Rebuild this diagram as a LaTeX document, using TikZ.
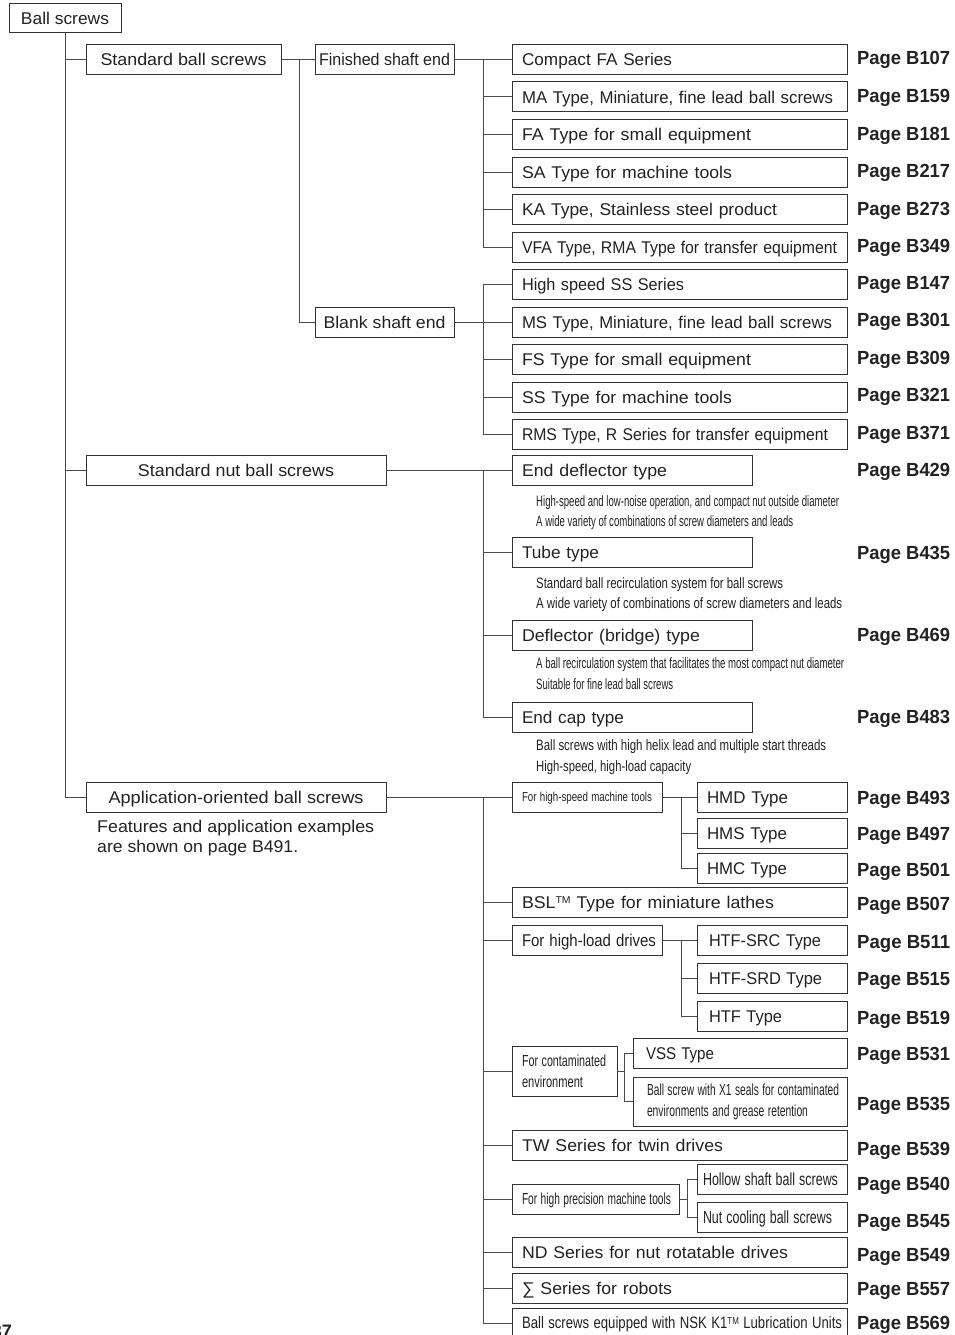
\documentclass[tikz,border=0pt]{standalone}
\usepackage{fontspec}
\setmainfont{Liberation Sans}
\usepackage{graphicx}
\newcommand\fitw[2]{\resizebox{#1pt}{\height}{#2}}
\newcommand\lt[2]{\hspace*{10pt}\fitw{#1}{#2}}
\newcommand\tmark[1]{\raisebox{#1}{\fontsize{10}{10}\selectfont TM}}
\definecolor{ink}{HTML}{222222}
\definecolor{bord}{HTML}{333333}
\definecolor{lin}{HTML}{4A4A4A}
\begin{document}
\begin{tikzpicture}[x=1pt,y=-1pt,
  box/.style={draw=bord, line width=1.0pt, text=ink, minimum height=30pt, inner ysep=0pt, outer sep=0pt, anchor=west, font=\fontsize{17}{20}\selectfont},
  onel/.style={text height=12.2pt, text depth=0pt},
  cbox/.style={box, onel, inner xsep=0pt, minimum width=#1pt},
  lbox/.style={box, onel, inner xsep=0pt, text width=#1pt, align=left},
  mbox/.style={box, inner xsep=0pt, text width=#1pt, align=left},
  pg/.style={anchor=base west, inner sep=0pt, text=ink, font=\fontsize{19}{20}\selectfont\bfseries},
  dsc/.style={anchor=base west, inner sep=0pt, text=ink, font=\fontsize{15}{20}\selectfont},
  captxt/.style={anchor=base west, inner sep=0pt, text=ink, font=\fontsize{17}{20}\selectfont},
  con/.style={draw=lin, line width=1.0pt}]
\fill[white] (0,0) rectangle (955,1335);
\useasboundingbox (0,0) rectangle (955,1335);

% bus coordinates
\coordinate (bx1) at (299,0);
\coordinate (bx2) at (483,0);
\coordinate (bx3) at (681,0);
\coordinate (bx4) at (624,0);
\coordinate (bx5) at (687,0);

% level 0 / 1 / 2
\node[cbox=112, minimum height=29pt] (root) at (9,18.5) {\fitw{88}{Ball screws}};
\node[cbox=195] (sbs) at (86,59.5) {\fitw{166}{Standard ball screws}};
\node[cbox=139] (fin) at (315,59.5) {\fitw{131}{Finished shaft end}};
\node[cbox=139] (blk) at (315,322) {\fitw{122}{Blank shaft end}};
\node[cbox=300] (snb) at (86,470.5) {\fitw{196}{Standard nut ball screws}};
\node[cbox=300] (app) at (86,797) {\fitw{255}{Application-oriented ball screws}};
\node[captxt] (cap1) at (97,832.3) {\fitw{277}{Features and application examples}};
\node[captxt] (cap2) at (97,852.3) {\fitw{201}{are shown on page B491.}};

% finished shaft end items
\node[lbox=335] (c1) at (512,59.5) {\lt{150}{Compact FA Series}};
\node[lbox=335] (c2) at (512,97) {\lt{311}{MA Type, Miniature, fine lead ball screws}};
\node[lbox=335] (c3) at (512,134.5) {\lt{229}{FA Type for small equipment}};
\node[lbox=335] (c4) at (512,172) {\lt{210}{SA Type for machine tools}};
\node[lbox=335] (c5) at (512,209.5) {\lt{255}{KA Type, Stainless steel product}};
\node[lbox=335] (c6) at (512,247) {\lt{315}{VFA Type, RMA Type for transfer equipment}};
% blank shaft end items
\node[lbox=335] (d1) at (512,284.5) {\lt{162}{High speed SS Series}};
\node[lbox=335] (d2) at (512,322) {\lt{310}{MS Type, Miniature, fine lead ball screws}};
\node[lbox=335] (d3) at (512,359.5) {\lt{229}{FS Type for small equipment}};
\node[lbox=335] (d4) at (512,397) {\lt{210}{SS Type for machine tools}};
\node[lbox=335] (d5) at (512,434.5) {\lt{306}{RMS Type, R Series for transfer equipment}};

% standard nut items
\node[lbox=240] (n1) at (512,470.5) {\lt{145}{End deflector type}};
\node[lbox=240] (n2) at (512,552.7) {\lt{77}{Tube type}};
\node[lbox=240] (n3) at (512,635) {\lt{178}{Deflector (bridge) type}};
\node[lbox=240] (n4) at (512,717) {\lt{102}{End cap type}};
\node[dsc] (e1a) at (536,506.3) {\fitw{303}{High-speed and low-noise operation, and compact nut outside diameter}};
\node[dsc] (e1b) at (536,526.3) {\fitw{257}{A wide variety of combinations of screw diameters and leads}};
\node[dsc] (e2a) at (536,588.3) {\fitw{247}{Standard ball recirculation system for ball screws}};
\node[dsc] (e2b) at (536,608.3) {\fitw{306}{A wide variety of combinations of screw diameters and leads}};
\node[dsc] (e3a) at (536,668.3) {\fitw{308}{A ball recirculation system that facilitates the most compact nut diameter}};
\node[dsc] (e3b) at (536,689) {\fitw{137}{Suitable for fine lead ball screws}};
\node[dsc] (e4a) at (536,750.7) {\fitw{290}{Ball screws with high helix lead and multiple start threads}};
\node[dsc] (e4b) at (536,771.7) {\fitw{155}{High-speed, high-load capacity}};

% application items
\node[lbox=150, font=\fontsize{13}{16}\selectfont, text height=9.3pt] (a1) at (512,797) {\lt{130}{For high-speed machine tools}};
\node[lbox=150] (h1) at (697,797) {\lt{81}{HMD Type}};
\node[lbox=150] (h2) at (697,833) {\lt{80}{HMS Type}};
\node[lbox=150] (h3) at (697,868) {\lt{80}{HMC Type}};
\node[lbox=335] (a2) at (512,902.5) {\lt{252}{BSL\tmark{5.2pt} Type for miniature lathes}};
\node[lbox=150] (a4) at (512,940) {\lt{134}{For high-load drives}};
\node[lbox=150] (t1) at (697,940) {\hspace*{12pt}\fitw{112}{HTF-SRC Type}};
\node[lbox=150] (t2) at (697,978) {\hspace*{12pt}\fitw{113}{HTF-SRD Type}};
\node[lbox=150] (t3) at (697,1016) {\hspace*{12pt}\fitw{73}{HTF Type}};
\node[mbox=105, minimum height=50pt, font=\fontsize{16}{21}\selectfont] (a5) at (512,1071) {\lt{84}{For contaminated}\\\lt{61}{environment}};
\node[lbox=214] (v1) at (633,1053) {\hspace*{13pt}\fitw{68}{VSS Type}};
\node[mbox=214, minimum height=49pt, font=\fontsize{16}{21}\selectfont] (v2) at (633,1101.5) {\hspace*{14pt}\fitw{192}{Ball screw with X1 seals for contaminated}\\\hspace*{14pt}\fitw{161}{environments and grease retention}};
\node[lbox=335] (a6) at (512,1145) {\lt{201}{TW Series for twin drives}};
\node[lbox=167, font=\fontsize{16}{20}\selectfont, text height=11.5pt] (a7) at (512,1199) {\lt{149}{For high precision machine tools}};
\node[lbox=150, font=\fontsize{17.5}{20}\selectfont, text height=12.5pt] (p1) at (697,1179.5) {\hspace*{6pt}\fitw{135}{Hollow shaft ball screws}};
\node[lbox=150, font=\fontsize{17.5}{20}\selectfont, text height=12.5pt] (p2) at (697,1217) {\hspace*{6pt}\fitw{129}{Nut cooling ball screws}};
\node[lbox=335] (a8) at (512,1252) {\lt{266}{ND Series for nut rotatable drives}};
\node[lbox=335] (a9) at (512,1288) {\lt{150}{∑ Series for robots}};
\node[lbox=335, font=\fontsize{16.5}{20}\selectfont, text height=11.8pt] (a10) at (512,1323) {\lt{320}{Ball screws equipped with NSK K1\tmark{4.8pt} Lubrication Units}};

% page labels
\node[pg] (pc1) at (857,64.3) {\fitw{93}{Page B107}};
\node[pg] (pc2) at (857,102.3) {\fitw{93}{Page B159}};
\node[pg] (pc3) at (857,140) {\fitw{93}{Page B181}};
\node[pg] (pc4) at (857,177.7) {\fitw{93}{Page B217}};
\node[pg] (pc5) at (857,215) {\fitw{93}{Page B273}};
\node[pg] (pc6) at (857,252.7) {\fitw{93}{Page B349}};
\node[pg] (pd1) at (857,289.3) {\fitw{93}{Page B147}};
\node[pg] (pd2) at (857,326.7) {\fitw{93}{Page B301}};
\node[pg] (pd3) at (857,364) {\fitw{93}{Page B309}};
\node[pg] (pd4) at (857,401.7) {\fitw{93}{Page B321}};
\node[pg] (pd5) at (857,439) {\fitw{93}{Page B371}};
\node[pg] (pn1) at (857,476.7) {\fitw{93}{Page B429}};
\node[pg] (pn2) at (857,559) {\fitw{93}{Page B435}};
\node[pg] (pn3) at (857,641.7) {\fitw{93}{Page B469}};
\node[pg] (pn4) at (857,723.3) {\fitw{93}{Page B483}};
\node[pg] (ph1) at (857,804) {\fitw{93}{Page B493}};
\node[pg] (ph2) at (857,840) {\fitw{93}{Page B497}};
\node[pg] (ph3) at (857,876.7) {\fitw{93}{Page B501}};
\node[pg] (pa2) at (857,910.7) {\fitw{93}{Page B507}};
\node[pg] (pt1) at (857,948.3) {\fitw{93}{Page B511}};
\node[pg] (pt2) at (857,985.7) {\fitw{93}{Page B515}};
\node[pg] (pt3) at (857,1024) {\fitw{93}{Page B519}};
\node[pg] (pv1) at (857,1060.7) {\fitw{93}{Page B531}};
\node[pg] (pv2) at (857,1110) {\fitw{93}{Page B535}};
\node[pg] (pa6) at (857,1155) {\fitw{93}{Page B539}};
\node[pg] (pp1) at (857,1190) {\fitw{93}{Page B540}};
\node[pg] (pp2) at (857,1227.3) {\fitw{93}{Page B545}};
\node[pg] (pa8) at (857,1261.7) {\fitw{93}{Page B549}};
\node[pg] (pa9) at (857,1295.7) {\fitw{93}{Page B557}};
\node[pg] (pa10) at (857,1329.3) {\fitw{93}{Page B569}};

% cut-off page number
\node[anchor=base east, inner sep=0pt, text=ink, font=\fontsize{18}{20}\selectfont\bfseries] (pnum) at (12,1337) {37};

% connectors
\draw[con] (root.south) |- (sbs.west);
\draw[con] (root.south) |- (snb.west);
\draw[con] (root.south) |- (app.west);
\draw[con] (sbs.east) -- (fin.west);
\draw[con] (sbs.east -| bx1) |- (blk.west);
\draw[con] (fin.east) -- (c1.west);
\foreach \n in {c2,c3,c4,c5,c6} \draw[con] (fin.east -| bx2) |- (\n.west);
\draw[con] (blk.east) -- (d2.west);
\foreach \n in {d1,d3,d4,d5} \draw[con] (blk.east -| bx2) |- (\n.west);
\draw[con] (snb.east) -- (n1.west);
\foreach \n in {n2,n3,n4} \draw[con] (snb.east -| bx2) |- (\n.west);
\draw[con] (app.east) -- (a1.west);
\foreach \n in {a2,a4,a5,a6,a7,a8,a9,a10} \draw[con] (app.east -| bx2) |- (\n.west);
\draw[con] (a1.east) -- (h1.west);
\foreach \n in {h2,h3} \draw[con] (a1.east -| bx3) |- (\n.west);
\draw[con] (a4.east) -- (t1.west);
\foreach \n in {t2,t3} \draw[con] (a4.east -| bx3) |- (\n.west);
\draw[con] (a5.east) -- (a5.east -| bx4);
\foreach \n in {v1,v2} \draw[con] (a5.east -| bx4) |- (\n.west);
\draw[con] (a7.east) -- (a7.east -| bx5);
\foreach \n in {p1,p2} \draw[con] (a7.east -| bx5) |- (\n.west);
\end{tikzpicture}
\end{document}
